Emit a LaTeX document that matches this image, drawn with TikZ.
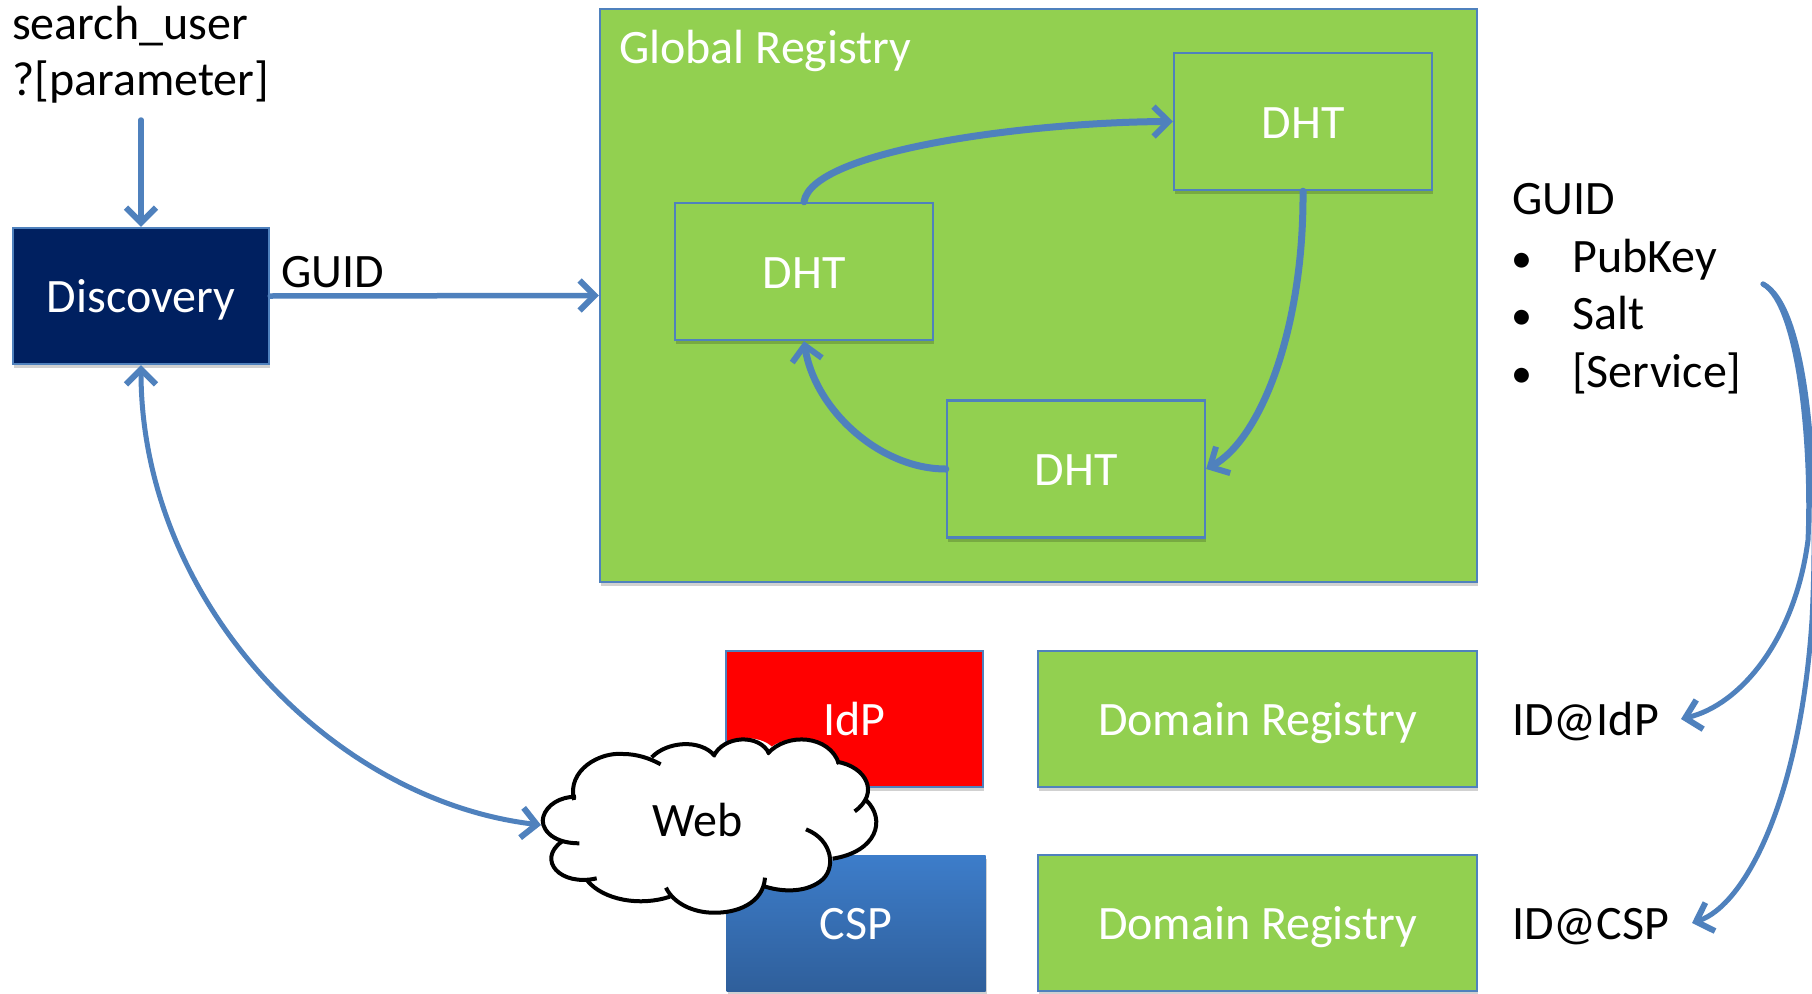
\documentclass[tikz,border=0pt]{standalone}
\usepackage{fontspec}
\setmainfont{Carlito}
\usetikzlibrary{arrows.meta,shadows}
\definecolor{edgeblue}{HTML}{4F81BD}
\definecolor{boxgreen}{HTML}{92D050}
\definecolor{navy}{HTML}{002060}
\newcommand{\listdot}{\makebox[60pt][l]{\hspace{-1pt}\fontsize{42}{42}\selectfont•}}
\tikzset{
  softshadow/.style={drop shadow={shadow xshift=1pt,shadow yshift=-4pt,opacity=.18,fill=black}},
  boxbase/.style={draw=edgeblue,line width=2.4pt,inner sep=0pt,text=white,font=\fontsize{48}{56}\selectfont,text height=35pt,text depth=2pt,softshadow},
  greenbox/.style={boxbase,fill=boxgreen},
  dhtbox/.style={greenbox,minimum width=258pt,minimum height=137pt},
  domainbox/.style={greenbox,minimum width=439pt,minimum height=136pt},
  plaintext/.style={inner sep=0pt,text=black,font=\fontsize{48}{56}\selectfont},
  oneline/.style={plaintext,text height=35pt,text depth=2pt},
  link/.style={draw=edgeblue,line width=5.5pt,line cap=round,-{Straight Barb[length=15pt,width=30pt,line width=6pt]}},
  heavylink/.style={link,line width=7pt},
  thinlink/.style={link,line width=5pt},
  cloudline/.style={draw=black,line width=4pt}
}
\begin{document}
\begin{tikzpicture}[x=1pt,y=-1pt]
\useasboundingbox (0,0) rectangle (1812,993);
\fill[white] (0,0) rectangle (1812,993);

\node[plaintext,anchor=north west,align=left,font=\fontsize{48}{56}\selectfont] (query) at (12,6) {search\_user\\?[parameter]};
\coordinate (querybottom) at (141,120);

\node[boxbase,fill=navy,minimum width=256pt,minimum height=136pt] (discovery) at (141,296) {Discovery};
\node[greenbox,minimum width=877pt,minimum height=573pt] (global) at (1038.5,295.5) {};
\node[oneline,text=white,anchor=west] (globaltitle) at (619,46.5) {Global Registry};
\node[dhtbox] (dhtT) at (1303,121.5) {DHT};
\node[dhtbox] (dhtL) at (804,271.5) {DHT};
\node[dhtbox] (dhtB) at (1076,469) {DHT};

\node[boxbase,fill=red,minimum width=257pt,minimum height=136pt] (idp) at (854.5,719) {IdP};
\node[boxbase,draw=none,minimum width=259pt,minimum height=136pt,top color={rgb,255:red,61;green,125;blue,202},bottom color={rgb,255:red,47;green,95;blue,155}] (csp) at (856,923) {CSP};
\node[domainbox] (dom1) at (1257.5,719) {Domain Registry};
\node[domainbox] (dom2) at (1257.5,923) {Domain Registry};

\node[oneline,anchor=west] (guidlabel) at (281,271) {GUID};
\node[plaintext,anchor=north west,align=left,font=\fontsize{48}{57.4}\selectfont] (guidlist) at (1512,183.5)
  {GUID\\\listdot PubKey\\\listdot Salt\\\listdot [Service]};
\node[oneline,anchor=west] (ididp) at (1512,719) {ID@IdP};
\node[oneline,anchor=west] (idcsp) at (1512,923) {ID@CSP};
\coordinate (guidout) at (1763,284);
\coordinate (ididpend) at (1681,719);
\coordinate (idcspend) at (1692,923);

% cloud
\begin{scope}[shift={(500,620)},scale=1/3]
  \fill[white] (130,610) .. controls (130,565) and (170,535) .. (222,530)
    .. controls (205,450) and (300,395) .. (370,402)
    .. controls (400,402) and (430,408) .. (455,415)
    .. controls (500,365) and (600,360) .. (648,390)
    .. controls (690,345) and (780,345) .. (815,380)
    .. controls (880,335) and (990,360) .. (1015,428)
    .. controls (1080,440) and (1120,495) .. (1100,540)
    .. controls (1150,590) and (1130,690) .. (998,715)
    .. controls (990,780) and (900,830) .. (792,803)
    .. controls (740,890) and (570,900) .. (505,832)
    .. controls (420,860) and (310,840) .. (265,785)
    .. controls (180,790) and (120,720) .. (180,662)
    .. controls (150,655) and (130,635) .. (130,610) -- cycle;
  \draw[cloudline] (222,540) .. controls (200,450) and (300,395) .. (370,402) .. controls (410,402) and (450,415) .. (482,433);
  \draw[cloudline] (455,412) .. controls (500,365) and (600,355) .. (645,408);
  \draw[cloudline] (640,410) .. controls (670,345) and (780,340) .. (808,402);
  \draw[cloudline] (802,402) .. controls (860,335) and (990,345) .. (1017,432);
  \draw[cloudline] (1010,425) .. controls (1100,440) and (1140,520) .. (1064,574);
  \draw[cloudline] (1098,540) .. controls (1160,600) and (1130,695) .. (998,716);
  \draw[cloudline] (918,628) .. controls (1000,660) and (1010,750) .. (960,785) .. controls (910,820) and (840,815) .. (790,798);
  \draw[cloudline] (795,773) .. controls (790,850) and (710,880) .. (640,878) .. controls (580,878) and (520,850) .. (498,803);
  \draw[cloudline] (510,830) .. controls (420,860) and (310,840) .. (262,782);
  \draw[cloudline] (290,775) .. controls (180,800) and (110,720) .. (185,665);
  \draw[cloudline] (238,670) .. controls (150,670) and (120,620) .. (130,590) .. controls (140,555) and (180,530) .. (228,530);
\end{scope}
\node[oneline] (web) at (698,820) {Web};

% connectors
\draw[link] (querybottom) -- (discovery.north);
\draw[link] (discovery.east) -- (global.west);
\draw[heavylink] (dhtL.north) .. controls (812,150) and (1030,122) .. (dhtT.west);
\draw[heavylink] (dhtT.south) .. controls (1304,330) and (1260,440) .. (dhtB.east);
\draw[heavylink] (dhtB.west) .. controls (880,469) and (815,410) .. (dhtL.south);
\draw[thinlink,{Straight Barb[length=15pt,width=30pt,line width=6pt]}-{Straight Barb[length=15pt,width=30pt,line width=6pt]}] (discovery.south) .. controls (141,600) and (330,800) .. (541,825);
\draw[thinlink] (guidout) .. controls (1800,305) and (1812,450) .. (1808,540) .. controls (1795,640) and (1740,705) .. (ididpend);
\draw[thinlink] (guidout) .. controls (1805,305) and (1820,460) .. (1812,620) .. controls (1800,800) and (1745,905) .. (idcspend);
\end{tikzpicture}
\end{document}
